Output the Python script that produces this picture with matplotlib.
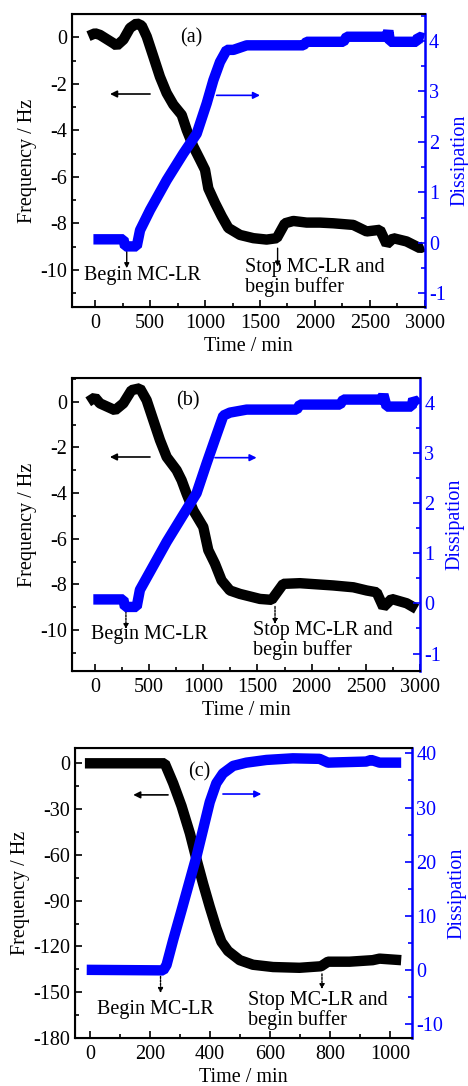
import matplotlib.pyplot as plt
from matplotlib.ticker import MultipleLocator

plt.rcParams['font.family'] = ['Liberation Serif', 'DejaVu Serif']
plt.rcParams['font.size'] = 14.5
plt.rcParams['axes.unicode_minus'] = False

BLUE = '#0000ff'

# panel (a)
time_a_f = [-60, 0, 45, 167, 197, 258, 318, 379, 424, 470, 530, 590, 651, 712, 788, 833,
            894, 955, 1000, 1030, 1091, 1152, 1212, 1318, 1440, 1560, 1652, 1727, 1803,
            1924, 2045, 2167, 2348, 2470, 2591, 2652, 2712, 2833, 2955, 2990]
freq_a = [0.05, 0.17, 0.1, -0.26, -0.36, -0.1, 0.4, 0.6, 0.5, 0.03, -0.83, -1.7, -2.4, -2.9,
          -3.34, -3.98, -4.7, -5.27, -5.7, -6.5, -7.13, -7.7, -8.2, -8.5, -8.64, -8.7, -8.64,
          -8.0, -7.9, -7.97, -7.97, -8.0, -8.07, -8.35, -8.28, -8.9, -8.64, -8.78, -9.07, -9.0]
time_a_d = [-15, 258, 273, 379, 409, 500, 651, 803, 924, 1015, 1076, 1136, 1197, 1258, 1379,
            1894, 1924, 2258, 2288, 2652, 2667, 2682, 2924, 2939, 2990]
diss_a = [0.07, 0.07, -0.07, -0.07, 0.25, 0.65, 1.24, 1.77, 2.16, 2.76, 3.22, 3.58, 3.82,
          3.82, 3.91, 3.91, 3.98, 3.98, 4.08, 4.08, 4.2, 3.98, 3.98, 4.08, 4.05]

# panel (b)
time_b_f = [-62, 0, 46, 185, 262, 338, 415, 477, 538, 600, 662, 754, 800, 846, 908, 1000,
            1046, 1108, 1169, 1246, 1338, 1523, 1631, 1738, 1892, 2200, 2385, 2508, 2600,
            2662, 2738, 2877, 2969]
freq_b = [0.0, 0.19, -0.07, -0.37, -0.07, 0.51, 0.59, 0.07, -0.8, -1.68, -2.42, -3.0, -3.44,
          -4.03, -4.76, -5.49, -6.5, -7.1, -7.83, -8.27, -8.42, -8.64, -8.68, -7.98, -7.95,
          -8.05, -8.13, -8.27, -8.35, -9.0, -8.64, -8.83, -9.08]
time_b_d = [-15, 262, 277, 385, 415, 662, 815, 938, 1031, 1123, 1185, 1246, 1400, 1862, 1892,
            2262, 2292, 2646, 2662, 2692, 2923, 2938, 2985]
diss_b = [0.08, 0.08, -0.07, -0.07, 0.27, 1.23, 1.77, 2.2, 2.8, 3.37, 3.75, 3.81, 3.87, 3.87,
          3.97, 3.97, 4.07, 4.07, 4.17, 3.93, 3.93, 4.08, 3.97]

# panel (c)
time_c_f = [-17, 100, 200, 249, 277, 305, 333, 355, 377, 399, 421, 438, 460, 499, 543, 610,
            698, 770, 793, 865, 942, 965, 1037]
freq_c = [0, 0, 0, 0, -13, -28, -46, -63, -79, -94, -108, -117, -123, -129, -132, -133.5,
          -134, -133, -130, -130, -129, -128, -129]
time_c_d = [-11, 244, 255, 277, 305, 333, 355, 377, 399, 421, 443, 477, 521, 588, 676, 765,
            793, 920, 937, 965, 1037]
diss_c = [0, -0.1, 0.9, 5.5, 11, 16.6, 21, 26, 31, 34.5, 36.3, 37.7, 38.3, 38.8, 39.1, 39,
          38.3, 38.5, 38.8, 38.3, 38.3]


def panel(rect, tf, f, td, d, xlim, ylim, y2lim, xmaj, xmin, ymaj, ymin, y2maj, y2min,
          label, label_xy, larrow, rarrow, begin, stop, dashed):
    ax = fig.add_axes(rect)
    ax2 = ax.twinx()
    ax.plot(tf, f, color='black', lw=7.5, solid_joinstyle='bevel', solid_capstyle='butt',
            zorder=3)
    ax2.plot(td, d, color=BLUE, lw=7.5, solid_joinstyle='bevel', solid_capstyle='butt')
    ax.set_xlim(*xlim)
    ax.set_ylim(*ylim)
    ax2.set_ylim(*y2lim)
    ax.xaxis.set_major_locator(MultipleLocator(xmaj))
    ax.xaxis.set_minor_locator(MultipleLocator(xmin))
    ax.yaxis.set_major_locator(MultipleLocator(ymaj))
    ax.yaxis.set_minor_locator(MultipleLocator(ymin))
    ax2.yaxis.set_major_locator(MultipleLocator(y2maj))
    ax2.yaxis.set_minor_locator(MultipleLocator(y2min))
    ax.tick_params(which='both', direction='in', top=False, right=False)
    ax.tick_params(which='major', length=5, width=1.2)
    ax.tick_params(which='minor', length=3, width=1.2)
    ax.tick_params(axis='x', pad=5)
    ax2.tick_params(which='both', direction='in', colors=BLUE)
    ax2.tick_params(which='major', length=5, width=1.2, pad=3)
    ax2.tick_params(which='minor', length=3, width=1.2)
    for s in ['left', 'bottom', 'top']:
        ax2.spines[s].set_linewidth(1.5)
    ax2.spines['right'].set_color(BLUE)
    ax2.spines['right'].set_linewidth(1.8)
    ax.set_xlabel('Time / min', labelpad=3)
    ax.set_ylabel('Frequency / Hz', labelpad=2)
    ax2.set_ylabel('Dissipation', color=BLUE, labelpad=3)
    ax.text(label_xy[0], label_xy[1], label, ha='center', va='center', zorder=5)
    ls = (0, (1.5, 1)) if dashed else '-'
    # horizontal arrows
    ax.annotate('', xy=(larrow[1], larrow[2]), xytext=(larrow[0], larrow[2]),
                arrowprops=dict(arrowstyle='-|>', color='black', lw=1.2,
                                mutation_scale=10, shrinkA=0, shrinkB=0))
    ax2.annotate('', xy=(rarrow[1], rarrow[2]), xytext=(rarrow[0], rarrow[2]),
                 arrowprops=dict(arrowstyle='-|>', color=BLUE, lw=1.2,
                                 mutation_scale=10, shrinkA=0, shrinkB=0))
    # vertical arrows and notes
    for x0, y0, y1, tx, ty, txt in [begin, stop]:
        ax.annotate('', xy=(x0, y1), xytext=(x0, y0),
                    arrowprops=dict(arrowstyle='-|>', color='black', lw=1.0, ls=ls,
                                    mutation_scale=7, shrinkA=0, shrinkB=0))
        ax.text(tx, ty, txt, ha='left', va='top', linespacing=1.0, zorder=5)
    return ax


fig = plt.figure(figsize=(4.68, 10.86), dpi=100)

panel([0.1538, 0.7173, 0.7542, 0.2698], time_a_f, freq_a, time_a_d, diss_a,
      (-210, 3000), (-11.6, 1.0), (-1.27, 4.53), 500, 250, 2, 1, 1, 0.5,
      '(a)', (879, -0.04), (500, 136, -2.44), (1106, 1500, 2.92),
      (288, -9.21, -9.93, -100, -9.85, 'Begin MC-LR'),
      (1660, -9.07, -9.86, 1364, -9.5, 'Stop MC-LR and\nbegin buffer'), False)

panel([0.1538, 0.3821, 0.7436, 0.2698], time_b_f, freq_b, time_b_d, diss_b,
      (-212, 3000), (-11.8, 1.04), (-1.35, 4.5), 500, 250, 2, 1, 1, 0.5,
      '(b)', (862, 0.04), (508, 138, -2.42), (1108, 1492, 2.91),
      (286, -9.18, -9.96, -40, -9.8, 'Begin MC-LR'),
      (1662, -8.97, -9.74, 1462, -9.6, 'Stop MC-LR and\nbegin buffer'), True)

panel([0.1603, 0.0442, 0.72, 0.267], time_c_f, freq_c, time_c_d, diss_c,
      (-50, 1073), (-180, 10), (-12.6, 41), 200, 100, 30, 15, 10, 5,
      '(c)', (363, -5.5), (260, 144, -20.7), (443, 571, 32.5),
      (235, -139.6, -150.5, 22, -155, 'Begin MC-LR'),
      (773, -138, -148, 527, -149, 'Stop MC-LR and\nbegin buffer'), True)

fig.savefig('out.png', dpi=100)
